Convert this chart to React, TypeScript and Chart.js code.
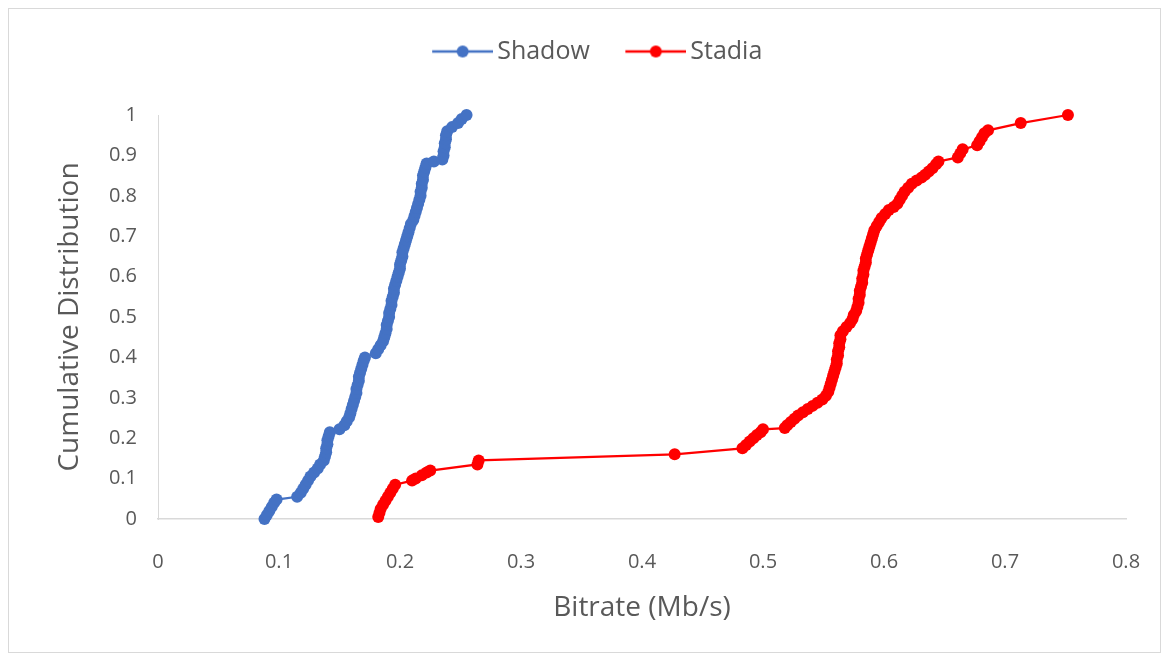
import React, { useEffect, useRef } from "react";
import { Chart, registerables } from "chart.js";

Chart.register(...registerables);

const seriesNames = ["Shadow", "Stadia"];

const shadowY = [
  0.0, 0.01, 0.02, 0.03, 0.04, 0.048, 0.055, 0.065, 0.075, 0.085, 0.095, 0.105, 0.115, 0.125, 0.135,
  0.145, 0.155, 0.165, 0.175, 0.185, 0.195, 0.205, 0.215, 0.222, 0.232, 0.242, 0.252, 0.262, 0.272, 0.282,
  0.292, 0.302, 0.312, 0.322, 0.332, 0.342, 0.352, 0.362, 0.372, 0.382, 0.392, 0.4, 0.41, 0.42, 0.43,
  0.44, 0.45, 0.46, 0.47, 0.48, 0.49, 0.5, 0.51, 0.52, 0.53, 0.54, 0.55, 0.56, 0.57, 0.58,
  0.59, 0.6, 0.61, 0.62, 0.63, 0.64, 0.65, 0.66, 0.67, 0.68, 0.69, 0.7, 0.71, 0.72, 0.73,
  0.74, 0.75, 0.76, 0.77, 0.78, 0.79, 0.8, 0.81, 0.82, 0.83, 0.84, 0.85, 0.86, 0.87, 0.88,
  0.885, 0.89, 0.9, 0.91, 0.92, 0.93, 0.94, 0.95, 0.96, 0.97, 0.98, 0.99, 1.0,
];
const shadowX = [
  0.088, 0.09, 0.092, 0.094, 0.096, 0.098, 0.115, 0.118, 0.12, 0.122, 0.124, 0.126, 0.129, 0.132, 0.134,
  0.137, 0.138, 0.139, 0.139, 0.14, 0.14, 0.141, 0.142, 0.15, 0.154, 0.156, 0.158, 0.159, 0.16, 0.161,
  0.162, 0.163, 0.164, 0.164, 0.165, 0.166, 0.166, 0.167, 0.168, 0.169, 0.17, 0.171, 0.18, 0.182, 0.184,
  0.186, 0.187, 0.188, 0.189, 0.189, 0.19, 0.191, 0.191, 0.192, 0.193, 0.193, 0.194, 0.195, 0.195, 0.196,
  0.197, 0.198, 0.199, 0.2, 0.2, 0.201, 0.202, 0.202, 0.203, 0.204, 0.205, 0.206, 0.207, 0.208, 0.209,
  0.211, 0.212, 0.213, 0.214, 0.215, 0.216, 0.217, 0.217, 0.218, 0.218, 0.219, 0.219, 0.22, 0.221, 0.222,
  0.228, 0.235, 0.236, 0.236, 0.237, 0.237, 0.238, 0.238, 0.239, 0.243, 0.248, 0.251, 0.255,
];

const stadiaY = [
  0.005, 0.015, 0.025, 0.035, 0.045, 0.055, 0.065, 0.075, 0.085, 0.095, 0.1, 0.108, 0.115, 0.12, 0.135,
  0.145, 0.16, 0.175, 0.183, 0.192, 0.2, 0.208, 0.215, 0.222, 0.225, 0.232, 0.24, 0.248, 0.256, 0.264,
  0.272, 0.28, 0.288, 0.296, 0.305, 0.315, 0.325, 0.335, 0.345, 0.355, 0.365, 0.375, 0.385, 0.395, 0.405,
  0.415, 0.425, 0.435, 0.445, 0.455, 0.465, 0.475, 0.485, 0.495, 0.505, 0.515, 0.525, 0.535, 0.545, 0.555,
  0.565, 0.575, 0.585, 0.595, 0.605, 0.615, 0.625, 0.635, 0.645, 0.655, 0.665, 0.675, 0.685, 0.695, 0.705,
  0.715, 0.725, 0.735, 0.745, 0.755, 0.765, 0.772, 0.78, 0.79, 0.8, 0.81, 0.82, 0.83, 0.838, 0.845,
  0.852, 0.86, 0.868, 0.878, 0.885, 0.895, 0.905, 0.915, 0.925, 0.935, 0.945, 0.955, 0.962, 0.98, 1.0,
];
const stadiaX = [
  0.182, 0.183, 0.184, 0.186, 0.188, 0.19, 0.192, 0.194, 0.196, 0.21, 0.213, 0.218, 0.222, 0.225, 0.264,
  0.265, 0.427, 0.483, 0.486, 0.489, 0.492, 0.495, 0.498, 0.5, 0.518, 0.52, 0.523, 0.526, 0.529, 0.533,
  0.537, 0.541, 0.545, 0.549, 0.552, 0.554, 0.555, 0.556, 0.557, 0.558, 0.559, 0.56, 0.561, 0.561, 0.562,
  0.562, 0.563, 0.563, 0.564, 0.564, 0.566, 0.569, 0.572, 0.574, 0.575, 0.577, 0.578, 0.579, 0.579, 0.58,
  0.58, 0.581, 0.582, 0.582, 0.583, 0.583, 0.584, 0.585, 0.585, 0.586, 0.587, 0.588, 0.589, 0.59, 0.591,
  0.592, 0.594, 0.596, 0.598, 0.601, 0.604, 0.608, 0.611, 0.613, 0.615, 0.617, 0.62, 0.623, 0.627, 0.631,
  0.634, 0.637, 0.64, 0.643, 0.645, 0.661, 0.663, 0.665, 0.677, 0.679, 0.681, 0.683, 0.686, 0.713, 0.752,
];

const xTickLabels = ["0", "0.1", "0.2", "0.3", "0.4", "0.5", "0.6", "0.7", "0.8"];
const yTickLabels = ["0", "0.1", "0.2", "0.3", "0.4", "0.5", "0.6", "0.7", "0.8", "0.9", "1"];

const xTitle = "Bitrate (Mb/s)";
const yTitle = "Cumulative Distribution";

const COLORS = ["#4472C4", "#FF0000"];
const TEXT = "#595959";
const FONT = "'Open Sans', 'Noto Sans', sans-serif";

const CANVAS_W = 1151;
const CANVAS_H = 643;

function makeLegendSymbol(color: string): HTMLCanvasElement {
  const c = document.createElement("canvas");
  c.width = 75;
  c.height = 14;
  const ctx = c.getContext("2d")!;
  ctx.strokeStyle = color;
  ctx.lineWidth = 2.5;
  ctx.beginPath();
  ctx.moveTo(14, 7);
  ctx.lineTo(75, 7);
  ctx.stroke();
  ctx.fillStyle = color;
  ctx.beginPath();
  ctx.arc(44.5, 7, 6, 0, Math.PI * 2);
  ctx.fill();
  return c;
}

const legendSpacing = {
  id: "legendSpacing",
  beforeInit(chart: any) {
    const origFit = chart.legend.fit;
    chart.legend.fit = function fit() {
      origFit.bind(chart.legend)();
      this.height += 41;
    };
  },
  afterLayout(chart: any) {
    chart.legend.left += 27;
    chart.legend.right += 27;
  },
};

export default function App() {
  const canvasRef = useRef<HTMLCanvasElement | null>(null);

  useEffect(() => {
    if (!canvasRef.current) return;
    const symbols = COLORS.map(makeLegendSymbol);
    const toPts = (xs: number[], ys: number[]) => xs.map((x, i) => ({ x, y: ys[i] }));
    const mkDs = (i: number, xs: number[], ys: number[]) => ({
      label: seriesNames[i],
      data: toPts(xs, ys),
      borderColor: COLORS[i],
      backgroundColor: COLORS[i],
      borderWidth: 2.25,
      pointRadius: 6,
      pointBorderWidth: 0,
      pointBackgroundColor: COLORS[i],
      clip: false as any,
    });
    const chart = new Chart(canvasRef.current, {
      type: "line",
      data: {
        datasets: [mkDs(0, shadowX, shadowY), mkDs(1, stadiaX, stadiaY)],
      },
      plugins: [legendSpacing],
      options: {
        animation: false,
        responsive: false,
        layout: { padding: { top: 0, left: 0, right: 34, bottom: 0 } },
        plugins: {
          tooltip: { enabled: false },
          legend: {
            position: "top",
            labels: {
              usePointStyle: true,
              pointStyleWidth: 58,
              padding: 30,
              color: TEXT,
              font: { family: FONT, size: 25 },
              generateLabels: (ch: any) =>
                ch.data.datasets.map((ds: any, i: number) => ({
                  text: ds.label,
                  pointStyle: symbols[i],
                  fillStyle: COLORS[i],
                  strokeStyle: COLORS[i],
                  lineWidth: 0,
                  hidden: false,
                  datasetIndex: i,
                  fontColor: TEXT,
                })),
            },
          },
        },
        scales: {
          x: {
            type: "linear",
            min: 0,
            max: 0.8,
            grid: { display: false, drawTicks: true, tickLength: 28 },
            border: { display: true, color: "#d9d9d9", width: 1.5 },
            ticks: {
              stepSize: 0.1,
              padding: 3,
              color: TEXT,
              font: { family: FONT, size: 20 },
              callback: (_v: any, i: number) => xTickLabels[i],
            },
            title: {
              display: true,
              text: xTitle,
              color: TEXT,
              font: { family: FONT, size: 28 },
              padding: 27,
            },
            afterFit: (s: any) => {
              s.height = 133;
            },
          },
          y: {
            type: "linear",
            min: 0,
            max: 1,
            grid: { display: false, drawTicks: true, tickLength: 18 },
            border: { display: true, color: "#d9d9d9", width: 1 },
            ticks: {
              stepSize: 0.1,
              padding: 3,
              color: TEXT,
              font: { family: FONT, size: 20 },
              callback: (_v: any, i: number) => yTickLabels[i],
            },
            title: {
              display: true,
              text: yTitle,
              color: TEXT,
              font: { family: FONT, size: 28 },
              padding: { top: 44, bottom: 0 },
            },
            afterFit: (s: any) => {
              s.width = 149;
            },
          },
        },
      },
    });
    return () => chart.destroy();
  }, []);

  return (
    <div
      style={{
        width: 1153,
        height: 645,
        border: "1px solid #d9d9d9",
        boxSizing: "border-box",
        background: "#fff",
      }}
    >
      <canvas
        ref={canvasRef}
        width={CANVAS_W}
        height={CANVAS_H}
        style={{ display: "block", width: CANVAS_W, height: CANVAS_H }}
      />
    </div>
  );
}
